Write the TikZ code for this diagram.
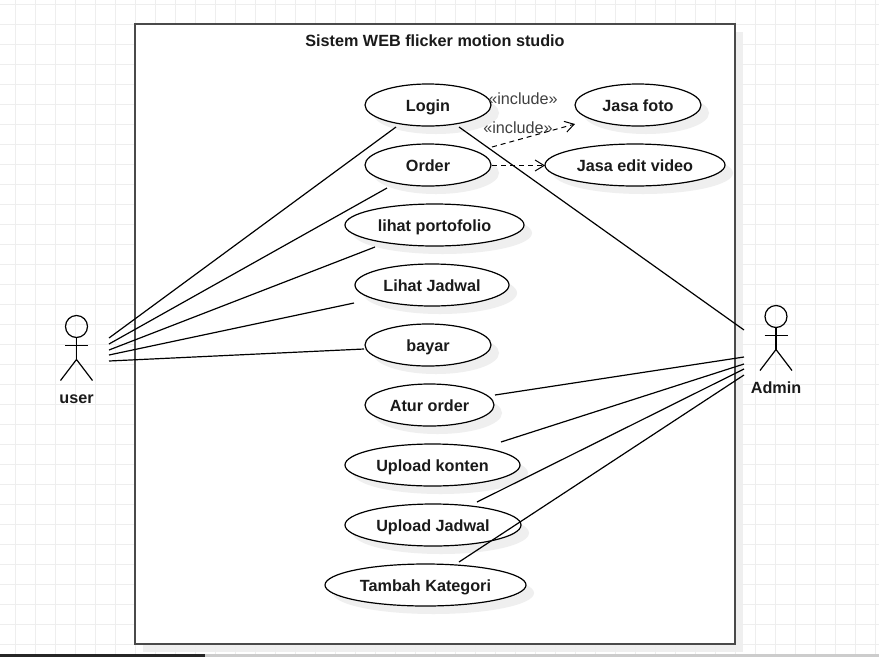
\documentclass[tikz,border=0pt]{standalone}
\usepackage{fontspec}
\setmainfont{Liberation Sans}
\usepackage{tikz}
\usetikzlibrary{shapes.geometric, arrows.meta, shadows}

\definecolor{gridgray}{HTML}{EEEEEE}
\definecolor{shadegray}{HTML}{EFEFEF}
\definecolor{framegray}{HTML}{4A4A4A}
\definecolor{textgray}{HTML}{1A1A1A}

\tikzset{
  usecase/.style={draw, ellipse, fill=white, inner sep=0pt, line width=1.2pt,
    font=\bfseries\fontsize{16.2}{18}\selectfont, text=textgray, text height=12pt, text depth=0pt,
    drop shadow={shadow xshift=8pt, shadow yshift=-8pt, fill=shadegray, opacity=1}},
  assoc/.style={line width=1.2pt},
  includes/.style={line width=1pt, dashed, dash pattern=on 5pt off 4pt, -{Straight Barb[length=9pt, width=11pt, line width=1pt]}},
  includetext/.style={font=\fontsize{16.2}{18}\selectfont, text=black!75},
  actorname/.style={font=\bfseries\fontsize{16.2}{18}\selectfont, text=textgray, text height=12pt, text depth=0pt},
  stickman/.pic={
    \draw[line width=1.2pt] (0,-10) circle (11);
    \draw[line width=1.2pt] (0,1) -- (0,23);
    \draw[line width=1.2pt] (-11.5,9) -- (11.5,9);
    \draw[line width=1.2pt] (-16,44) -- (0,23) -- (16,44);
  }
}

\begin{document}
\begin{tikzpicture}[x=1pt, y=-1pt]

\useasboundingbox (0,0) rectangle (879,657);
\fill[white] (0,0) rectangle (879,657);

% page background
\fill[shadegray] (143,32) rectangle (743,652);
\foreach \gx in {15.5,35.5,...,875.5} {
  \draw[gridgray, line width=0.9pt] (\gx,0) -- (\gx,654);
}
\foreach \gy in {4.5,24.5,...,644.5} {
  \draw[gridgray, line width=0.9pt] (0,\gy) -- (879,\gy);
}
\fill[black!85] (0,654) rectangle (205,657);
\fill[black!20] (205,654) rectangle (879,657);

% system boundary
\node (system) [draw=framegray, fill=white, line width=1.4pt, rectangle, inner sep=0pt,
  minimum width=600pt, minimum height=620pt] at (435,334) {};
\node (title) [actorname] at (435,40) {Sistem WEB flicker motion studio};

% use cases
\node (login) [usecase, minimum width=126pt, minimum height=42pt] at (428,105) {Login};
\node (order) [usecase, minimum width=126pt, minimum height=42pt] at (428,165) {Order};
\node (portofolio) [usecase, minimum width=179pt, minimum height=42pt] at (434.5,225) {lihat portofolio};
\node (jadwal) [usecase, minimum width=154pt, minimum height=42pt] at (432,285) {Lihat Jadwal};
\node (bayar) [usecase, minimum width=126pt, minimum height=42pt] at (428,345) {bayar};
\node (aturorder) [usecase, minimum width=129pt, minimum height=42pt] at (429.5,405) {Atur order};
\node (konten) [usecase, minimum width=175pt, minimum height=42pt] at (432.5,465) {Upload konten};
\node (uploadjadwal) [usecase, minimum width=176pt, minimum height=42pt] at (433,525) {Upload Jadwal};
\node (kategori) [usecase, minimum width=201pt, minimum height=42pt] at (425.5,585) {Tambah Kategori};
\node (foto) [usecase, minimum width=126pt, minimum height=42pt] at (638,105) {Jasa foto};
\node (video) [usecase, minimum width=180pt, minimum height=42pt] at (635,165) {Jasa edit video};

% actors
\pic at (76.5,336.5) {stickman};
\pic at (776,326.5) {stickman};
\node (user) [actorname] at (76.5,397) {user};
\node (admin) [actorname] at (776,387) {Admin};

% free ends of the connectors
\coordinate (user_a) at (109,338);
\coordinate (user_b) at (109,344);
\coordinate (user_c) at (109,350);
\coordinate (user_d) at (109,355);
\coordinate (user_e) at (109,361);
\coordinate (admin_a) at (744,330);
\coordinate (admin_b) at (744,357);
\coordinate (admin_c) at (744,364);
\coordinate (admin_d) at (744,369);
\coordinate (admin_e) at (744,375);
\coordinate (login_u) at (396,127);
\coordinate (login_a) at (459,127);
\coordinate (order_u) at (387,188);
\coordinate (order_f) at (492,147);
\coordinate (order_v) at (492,165.5);
\coordinate (foto_o) at (575,124);
\coordinate (video_o) at (545,165.5);
\coordinate (portofolio_u) at (375,247);
\coordinate (jadwal_u) at (354,303);
\coordinate (bayar_u) at (364,349);
\coordinate (aturorder_a) at (495,395);
\coordinate (konten_a) at (501,442);
\coordinate (uploadjadwal_a) at (477,502);
\coordinate (kategori_a) at (459,562);

\draw[assoc] (user_a) -- (login_u);
\draw[assoc] (user_b) -- (order_u);
\draw[assoc] (user_c) -- (portofolio_u);
\draw[assoc] (user_d) -- (jadwal_u);
\draw[assoc] (user_e) -- (bayar_u);
\draw[assoc] (admin_a) -- (login_a);
\draw[assoc] (admin_b) -- (aturorder_a);
\draw[assoc] (admin_c) -- (konten_a);
\draw[assoc] (admin_d) -- (uploadjadwal_a);
\draw[assoc] (admin_e) -- (kategori_a);

\draw[includes] (order_f) -- (foto_o);
\draw[includes] (order_v) -- (video_o);
\node (include_a) [includetext] at (523,99) {«include»};
\node (include_b) [includetext] at (518,128) {«include»};

\end{tikzpicture}
\end{document}
